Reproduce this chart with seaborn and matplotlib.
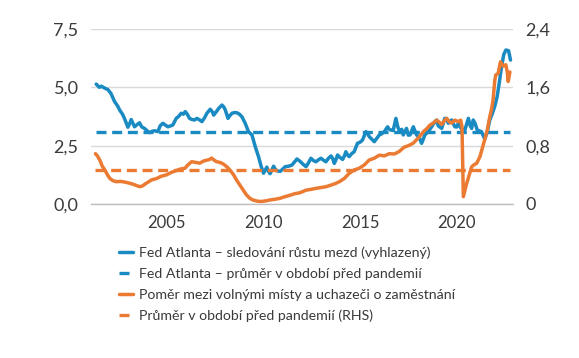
import numpy as np
import pandas as pd
import matplotlib
matplotlib.use("Agg")
import matplotlib.pyplot as plt
import seaborn as sns

# ---------- DATA ----------
wage_years = [
    2001.34, 2001.5, 2001.6, 2001.75, 2001.95, 2002.1, 2002.29, 2002.45, 2002.55, 2002.7,
    2002.8, 2002.98, 2003.1, 2003.15, 2003.32, 2003.45, 2003.58, 2003.7, 2003.84, 2004.0,
    2004.1, 2004.25, 2004.36, 2004.53, 2004.65, 2004.79, 2004.92, 2005.05, 2005.2, 2005.31,
    2005.48, 2005.6, 2005.74, 2005.85, 2005.95, 2006.05, 2006.17, 2006.3, 2006.43, 2006.55,
    2006.7, 2006.81, 2006.95, 2007.07, 2007.24, 2007.35, 2007.42, 2007.55, 2007.68, 2007.85,
    2007.95, 2008.02, 2008.16, 2008.27, 2008.37, 2008.5, 2008.62, 2008.75, 2008.88, 2009.05,
    2009.22, 2009.4, 2009.57, 2009.74, 2009.88, 2010.0, 2010.08, 2010.17, 2010.25, 2010.34,
    2010.45, 2010.52, 2010.6, 2010.69, 2010.86, 2011.0, 2011.12, 2011.3, 2011.47, 2011.6,
    2011.73, 2011.9, 2012.05, 2012.2, 2012.35, 2012.45, 2012.6, 2012.71, 2012.85, 2012.97,
    2013.1, 2013.23, 2013.35, 2013.49, 2013.58, 2013.66, 2013.75, 2013.83, 2013.95, 2014.09,
    2014.18, 2014.26, 2014.35, 2014.43, 2014.55, 2014.69, 2014.86, 2015.0, 2015.12, 2015.3,
    2015.4, 2015.47, 2015.6, 2015.73, 2015.85, 2015.99, 2016.1, 2016.25, 2016.42, 2016.5,
    2016.59, 2016.71, 2016.85, 2016.95, 2017.05, 2017.15, 2017.23, 2017.4, 2017.49, 2017.58,
    2017.75, 2017.92, 2018.05, 2018.18, 2018.35, 2018.52, 2018.7, 2018.87, 2018.96, 2019.04,
    2019.22, 2019.38, 2019.48, 2019.56, 2019.73, 2019.9, 2020.0, 2020.08, 2020.25, 2020.42,
    2020.6, 2020.7, 2020.77, 2020.85, 2020.95, 2021.06, 2021.28, 2021.45, 2021.58, 2021.71,
    2021.85, 2021.97, 2022.09, 2022.2, 2022.32, 2022.43, 2022.54, 2022.68, 2022.78,
]
wage_growth = [
    5.14, 5.0, 5.05, 4.98, 4.9, 4.74, 4.39, 4.2, 4.03, 3.85,
    3.67, 3.29, 3.5, 3.62, 3.31, 3.4, 3.48, 3.3, 3.24, 3.12,
    3.06, 3.12, 3.14, 3.1, 3.35, 3.46, 3.38, 3.31, 3.35, 3.39,
    3.67, 3.75, 3.89, 3.85, 3.96, 3.85, 3.67, 3.62, 3.6, 3.67,
    3.6, 3.53, 3.7, 3.89, 4.06, 3.95, 3.81, 3.95, 4.1, 4.24,
    4.15, 4.03, 3.67, 3.8, 3.89, 3.92, 3.91, 3.85, 3.74, 3.46,
    3.1, 2.96, 2.46, 2.03, 1.6, 1.32, 1.45, 1.58, 1.4, 1.3,
    1.5, 1.62, 1.5, 1.42, 1.4, 1.5, 1.6, 1.62, 1.67, 1.8,
    1.93, 1.82, 1.7, 1.6, 1.8, 1.96, 1.85, 1.81, 1.9, 1.96,
    1.88, 1.81, 1.95, 2.06, 1.95, 1.74, 1.9, 2.1, 2.0, 1.91,
    2.05, 2.24, 2.1, 2.03, 2.15, 2.24, 2.6, 2.65, 2.74, 3.1,
    3.0, 2.89, 2.78, 2.67, 2.8, 2.96, 3.0, 3.1, 3.31, 3.2,
    3.17, 3.15, 3.67, 3.3, 3.1, 3.2, 2.96, 3.24, 2.95, 2.96,
    3.31, 2.96, 2.85, 2.6, 2.96, 3.1, 3.31, 3.53, 3.6, 3.35,
    3.24, 3.67, 3.65, 3.46, 3.6, 3.31, 3.3, 3.46, 3.2, 3.17,
    3.67, 3.35, 3.24, 3.6, 3.45, 3.17, 3.1, 2.78, 3.1, 3.6,
    3.9, 4.2, 4.6, 5.2, 5.9, 6.4, 6.6, 6.57, 6.17,
]
wage_avg = 3.09

ratio_years = [
    2001.3, 2001.4, 2001.53, 2001.65, 2001.79, 2001.92, 2002.05, 2002.2, 2002.4, 2002.6,
    2002.83, 2003.0, 2003.26, 2003.45, 2003.6, 2003.75, 2003.9, 2004.03, 2004.2, 2004.47,
    2004.7, 2004.98, 2005.2, 2005.5, 2005.7, 2005.93, 2006.1, 2006.28, 2006.5, 2006.7,
    2006.9, 2007.05, 2007.2, 2007.31, 2007.45, 2007.57, 2007.75, 2007.91, 2008.1, 2008.26,
    2008.45, 2008.6, 2008.8, 2008.95, 2009.1, 2009.29, 2009.45, 2009.64, 2009.8, 2009.98,
    2010.15, 2010.33, 2010.6, 2010.85, 2011.1, 2011.37, 2011.6, 2011.89, 2012.2, 2012.45,
    2012.71, 2012.95, 2013.23, 2013.5, 2013.75, 2013.95, 2014.18, 2014.43, 2014.69, 2014.95,
    2015.21, 2015.47, 2015.73, 2015.99, 2016.25, 2016.51, 2016.77, 2017.02, 2017.28, 2017.5,
    2017.75, 2018.09, 2018.3, 2018.44, 2018.6, 2018.78, 2018.96, 2019.1, 2019.22, 2019.35,
    2019.48, 2019.6, 2019.73, 2019.9, 2020.08, 2020.2, 2020.27, 2020.34, 2020.51, 2020.77,
    2020.9, 2021.03, 2021.2, 2021.37, 2021.58, 2021.71, 2021.8, 2021.88, 2021.97, 2022.02,
    2022.14, 2022.26, 2022.4, 2022.54, 2022.62, 2022.66, 2022.75,
]
vu_ratio = [
    0.69, 0.66, 0.6, 0.52, 0.466, 0.4, 0.35, 0.32, 0.306, 0.31,
    0.3, 0.29, 0.27, 0.25, 0.237, 0.25, 0.28, 0.3, 0.33, 0.35,
    0.38, 0.4, 0.43, 0.46, 0.48, 0.49, 0.54, 0.58, 0.57, 0.56,
    0.59, 0.6, 0.61, 0.63, 0.6, 0.58, 0.57, 0.55, 0.51, 0.466,
    0.4, 0.33, 0.25, 0.19, 0.13, 0.078, 0.055, 0.041, 0.035, 0.037,
    0.045, 0.055, 0.065, 0.078, 0.1, 0.12, 0.14, 0.155, 0.19, 0.2,
    0.215, 0.225, 0.237, 0.26, 0.284, 0.31, 0.35, 0.42, 0.466, 0.49,
    0.535, 0.604, 0.627, 0.67, 0.66, 0.69, 0.686, 0.72, 0.78, 0.8,
    0.835, 0.93, 1.0, 1.03, 1.08, 1.11, 1.15, 1.12, 1.09, 1.14,
    1.175, 1.13, 1.11, 1.15, 1.13, 1.15, 1.06, 0.1, 0.28, 0.51,
    0.54, 0.558, 0.65, 0.81, 1.015, 1.2, 1.3, 1.43, 1.7, 1.77,
    1.79, 1.95, 1.89, 1.91, 1.8, 1.68, 1.81,
]
ratio_avg = 0.466

x_ticks = [2005, 2010, 2015, 2020]
left_ticks = [0, 2.5, 5, 7.5]
left_labels = ["0,0", "2,5", "5,0", "7,5"]
right_ticks = [0, 0.8, 1.6, 2.4]
right_labels = ["0", "0,8", "1,6", "2,4"]

labels = [
    "Fed Atlanta – sledování růstu mezd (vyhlazený)",
    "Fed Atlanta – průměr v období před pandemií",
    "Poměr mezi volnými místy a uchazeči o zaměstnání",
    "Průměr v období před pandemií (RHS)",
]

BLUE = "#1a8ac2"
ORANGE = "#eb7a33"
TEXT = "#3a3a3a"

# ---------- STYLE ----------
sns.set_theme(style="white")
plt.rcParams["font.family"] = ["Lato", "DejaVu Sans"]

fig = plt.figure(figsize=(5.79, 3.58), dpi=100)
ax = fig.add_axes([91 / 579, 1 - 204 / 358, 422 / 579, 175 / 358])
ax2 = ax.twinx()

wage_df = pd.DataFrame({"year": wage_years, "value": wage_growth})
ratio_df = pd.DataFrame({"year": ratio_years, "value": vu_ratio})

sns.lineplot(data=wage_df, x="year", y="value", ax=ax, color=BLUE, lw=2.5)
h1 = ax.lines[-1]
sns.lineplot(x=[wage_years[0], wage_years[-1]], y=[wage_avg, wage_avg], ax=ax,
             color=BLUE, lw=2.4)
h2 = ax.lines[-1]
h2.set_dashes((3, 1.7))

sns.lineplot(data=ratio_df, x="year", y="value", ax=ax2, color=ORANGE, lw=2.5)
h3 = ax2.lines[-1]
sns.lineplot(x=[ratio_years[0], ratio_years[-1]], y=[ratio_avg, ratio_avg], ax=ax2,
             color=ORANGE, lw=2.4)
h4 = ax2.lines[-1]
h4.set_dashes((3, 1.7))

# ---------- AXES ----------
ax.set_xlim(2001.07, 2022.91)
ax.set_ylim(0, 7.5)
ax2.set_ylim(0, 2.4)
ax.set_xticks(x_ticks)
ax.set_xticklabels([str(t) for t in x_ticks])
ax.set_yticks(left_ticks)
ax.set_yticklabels(left_labels)
ax2.set_yticks(right_ticks)
ax2.set_yticklabels(right_labels)
ax.set_xlabel("")
ax.set_ylabel("")
ax2.set_ylabel("")

ax.yaxis.grid(True, color="#d9d9d9", lw=1)
ax.set_axisbelow(True)
for a in (ax, ax2):
    for s in ("top", "left", "right", "bottom"):
        a.spines[s].set_visible(False)
ax.spines["bottom"].set_visible(True)
ax.spines["bottom"].set_color("#bfbfbf")
ax.spines["bottom"].set_linewidth(1)

ax.tick_params(axis="x", direction="out", length=5, width=1, color="#bfbfbf",
               labelsize=12, labelcolor=TEXT, pad=3)
ax.tick_params(axis="y", length=0, labelsize=13, labelcolor=TEXT, pad=9)
ax2.tick_params(axis="y", length=0, labelsize=13, labelcolor=TEXT, pad=9)

# ---------- LEGEND ----------
fig.legend(handles=[h1, h2, h3, h4], labels=labels, loc="upper left",
           bbox_to_anchor=(112 / 579, 1 - 239 / 358), frameon=False,
           fontsize=10.2, handlelength=0.95, handletextpad=0.45,
           labelspacing=0.64, borderpad=0, labelcolor=TEXT)

fig.savefig("out.png", dpi=100)
